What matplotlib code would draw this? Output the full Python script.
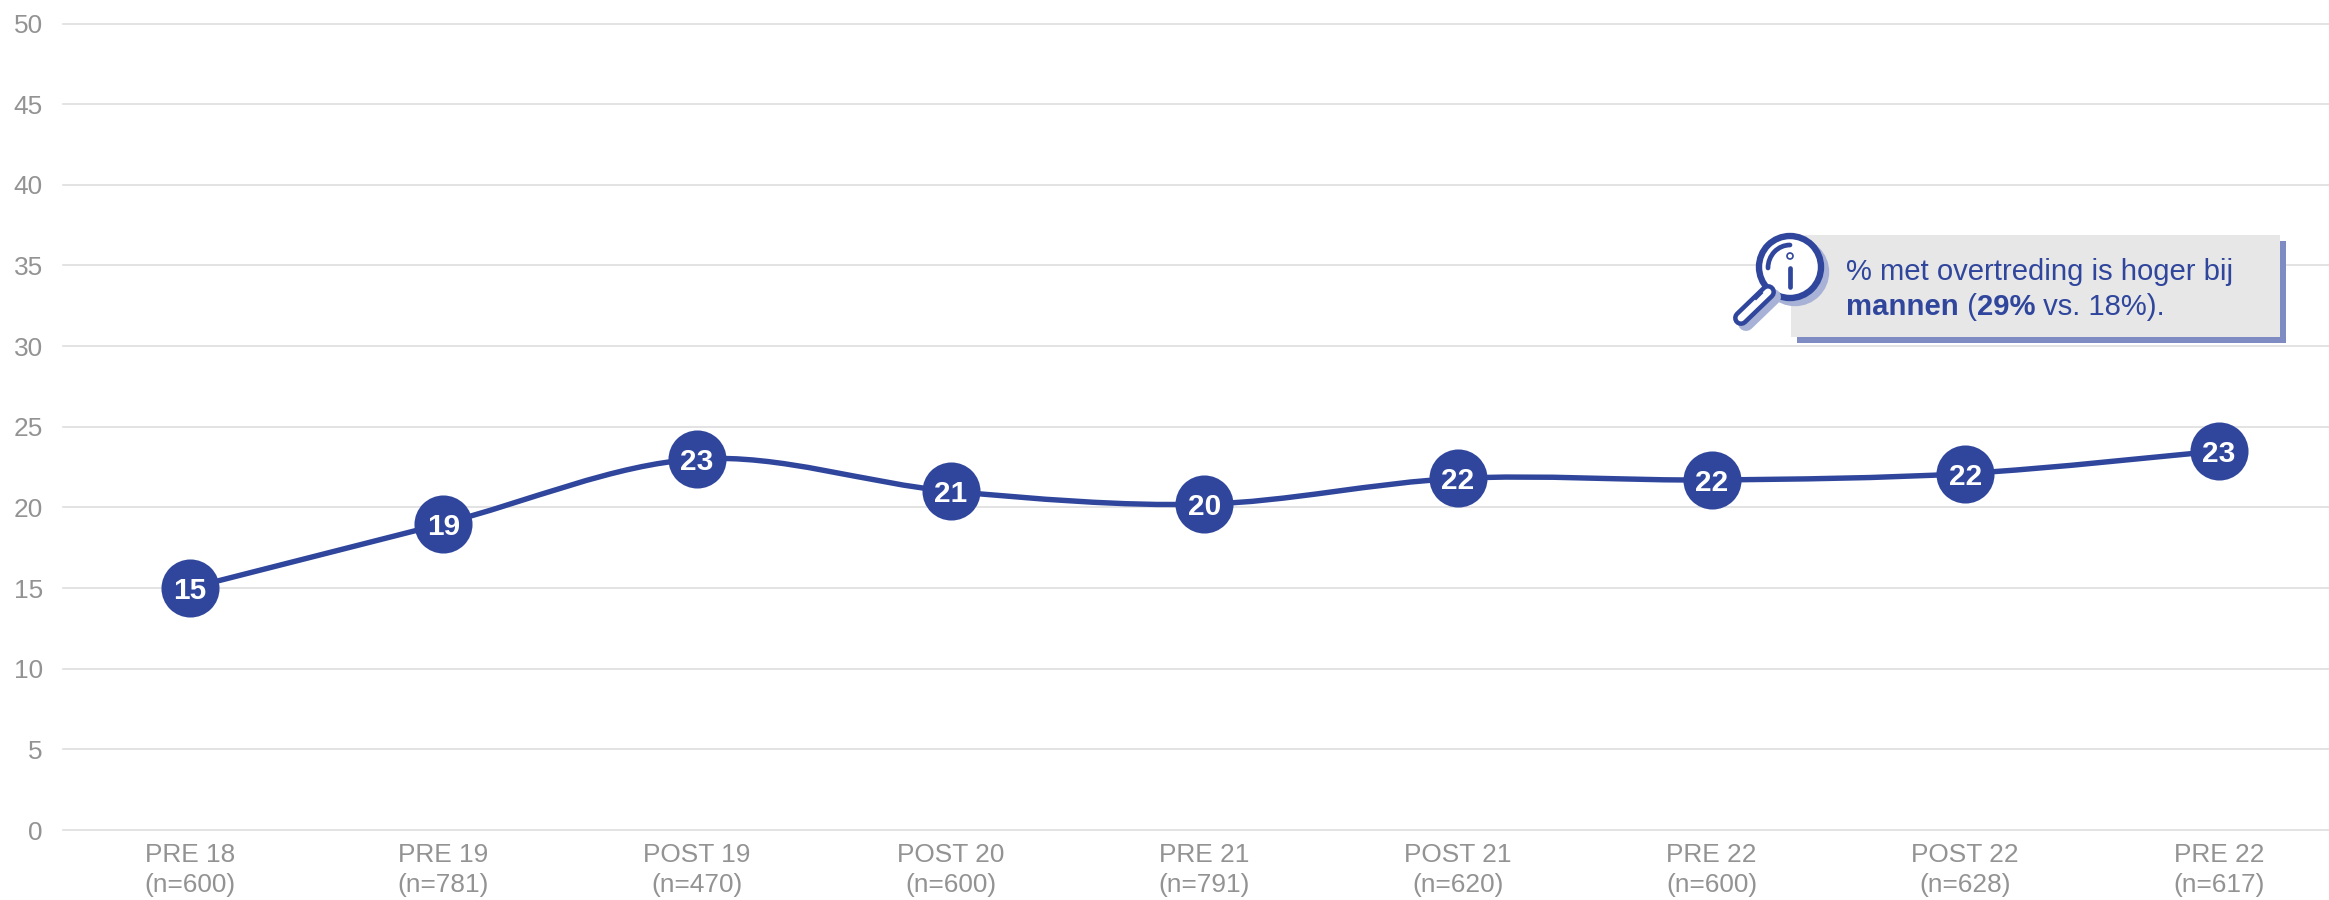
import matplotlib
matplotlib.use("Agg")
import matplotlib.pyplot as plt
import numpy as np
from matplotlib.patches import Ellipse, Rectangle, Arc, PathPatch
from matplotlib.path import Path

periods = ['PRE 18', 'PRE 19', 'POST 19', 'POST 20', 'PRE 21', 'POST 21', 'PRE 22', 'POST 22', 'PRE 22']
sample_sizes = [600, 781, 470, 600, 791, 620, 600, 628, 617]
values = [15.0, 19.0, 23.0, 21.0, 20.2, 21.8, 21.7, 22.1, 23.5]
value_labels = ['15', '19', '23', '21', '20', '22', '22', '22', '23']
y_ticks = [0, 5, 10, 15, 20, 25, 30, 35, 40, 45, 50]

BLUE = '#2F469C'
GREY = '#939393'
W, H = 2329, 900

plt.rcParams['font.family'] = ['Liberation Sans', 'DejaVu Sans']


def smooth_path(xs, ys):
    # same kind of smoothing as office charts: bezier through every point
    pts = np.column_stack([xs, ys])
    verts = [pts[0]]
    codes = [Path.MOVETO]
    for i in range(len(pts) - 1):
        before = pts[max(i - 1, 0)]
        after = pts[min(i + 2, len(pts) - 1)]
        verts += [pts[i] + (pts[i + 1] - before) / 6,
                  pts[i + 1] - (after - pts[i]) / 6,
                  pts[i + 1]]
        codes += [Path.CURVE4] * 3
    return Path(verts, codes)


fig = plt.figure(figsize=(W / 100, H / 100), dpi=100)
ax = fig.add_axes([63 / W, 1 - 830 / H, (W - 63) / W, (830 - 23.5) / H])

x = np.arange(len(values))
ax.set_xlim(-0.5, 8.434)
ax.set_ylim(0, 50)
ax.set_yticks(y_ticks)
ax.set_xticks(x)
ax.set_xticklabels([f'{p}\n(n={n})' for p, n in zip(periods, sample_sizes)], linespacing=1.36)
ax.tick_params(axis='x', length=0, pad=9, labelsize=18.9, labelcolor=GREY)
ax.tick_params(axis='y', length=0, pad=14.5, labelsize=18.9, labelcolor=GREY)
ax.grid(axis='y', color='#DEDEDE', lw=1.2, clip_on=False)
ax.set_axisbelow(True)
for s in ax.spines.values():
    s.set_visible(False)

ax.add_patch(PathPatch(smooth_path(x, values), fc='none', ec=BLUE, lw=3.9, zorder=3))

ax.plot(x, values, ls='none', marker='o', ms=41.8, mfc=BLUE, mec='none', zorder=4)
for xi, v, lab in zip(x, values, value_labels):
    ax.text(xi, v, lab, color='white', fontsize=21.5, fontweight='bold',
            ha='center', va='center_baseline', zorder=5)

# callout drawn in pixel coordinates
ov = fig.add_axes([0, 0, 1, 1], facecolor='none')
ov.set_xlim(0, W)
ov.set_ylim(H, 0)
ov.axis('off')
ov.add_patch(Rectangle((1797, 241), 489, 102, fc='#7F8CC4', ec='none'))
ov.add_patch(Rectangle((1791, 235), 489, 102, fc='#E7E7E7', ec='none'))


def draw_glass(dx, dy, col, fill):
    ov.plot([1768 + dx, 1741 + dx], [292 + dy, 318 + dy], color=col, lw=11.5, solid_capstyle='round')
    if fill:
        ov.plot([1768, 1741], [292, 318], color='white', lw=5, solid_capstyle='round')
        ov.plot([1762, 1756], [293, 299], color=BLUE, lw=1.5)
    ov.add_patch(Ellipse((1790 + dx, 267 + dy), 62, 62, fc='white' if fill else col, ec=col, lw=4.6))


draw_glass(5, 5, '#A8B2D6', False)
draw_glass(0, 0, BLUE, True)
ov.add_patch(Arc((1790, 268), 44, 46, theta1=180, theta2=270, color=BLUE, lw=3.4, capstyle='round'))
ov.plot([1790, 1790], [268, 287], color=BLUE, lw=3.4, solid_capstyle='round')
ov.add_patch(Ellipse((1790, 256), 6, 6, fc='white', ec=BLUE, lw=1.2))

ov.text(1846, 280, '% met overtreding is hoger bij', color=BLUE, fontsize=21.1, va='baseline')
parts = [('mannen', 'bold'), (' (', 'normal'), ('29%', 'bold'), (' vs. 18%).', 'normal')]
fig.canvas.draw()
rend = fig.canvas.get_renderer()
px = 1846
for txt, weight in parts:
    ov.text(px, 315, txt, color=BLUE, fontsize=21.1, fontweight=weight, va='baseline')
    # blanks at the ends of a piece only count when measured between two letters
    tmp = ov.text(0, 0, 'x' + txt + 'x', fontsize=21.1, fontweight=weight)
    a = tmp.get_window_extent(rend).width
    tmp.set_text('xx')
    b = tmp.get_window_extent(rend).width
    tmp.remove()
    px += a - b

fig.savefig('out.png', dpi=100)
